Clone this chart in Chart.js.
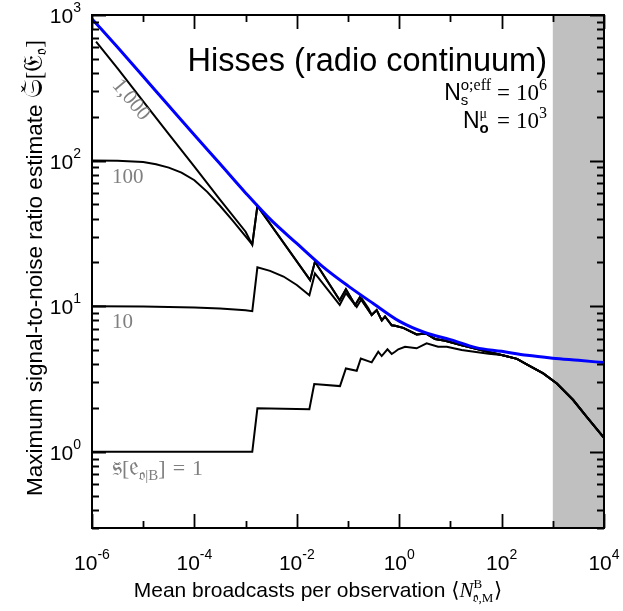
<!DOCTYPE html>
<html>
<head>
<meta charset="utf-8">
<script src="https://cdn.jsdelivr.net/npm/chart.js@4.4.1/dist/chart.umd.min.js"></script>
<style>
  html, body { margin: 0; padding: 0; background: #ffffff; }
</style>
</head>
<body>
<canvas id="grafico" width="623" height="611"></canvas>
<script>
// Envolvente (curva azul)
const envX = [1e-6, 3.16e-6, 1e-5, 3.16e-5, 1e-4, 3.16e-4, 1e-3, 3.16e-3, 1e-2, 3.16e-2, 0.1, 0.316, 1, 3.16, 10, 31.6, 100, 316, 1000, 3160, 1e4];
const envY = [940, 600, 378, 238, 150, 95, 60, 39, 27, 18.8, 13.8, 10.4, 7.9, 6.6, 5.9, 5.2, 4.9, 4.6, 4.4, 4.25, 4.1];

// Tramo inicial de cada curva negra
const head1000X = [1.2e-6, 3.16e-6, 1e-5, 3.16e-5, 1e-4, 3.16e-4, 1e-3, 1.35e-3];
const head1000Y = [656, 430, 255, 152, 91, 54, 32.5, 26.5];
const head100X = [1e-6, 3.16e-6, 1e-5, 1.78e-5, 3.16e-5, 5.6e-5, 1e-4, 1.78e-4, 3.16e-4, 5.6e-4, 1e-3, 1.35e-3];
const head100Y = [100, 99.6, 97.7, 94.4, 89.5, 82.8, 73.3, 61, 49, 38.7, 30.2, 26.5];
const head10X = [1e-6, 1e-5, 1e-4, 3.16e-4, 1e-3, 1.35e-3, 1.7e-3, 3.0e-3, 5.5e-3, 1e-2, 1.76e-2, 2.26e-2, 6.9e-2, 9.1e-2, 0.148, 0.186, 0.25];
const head10Y = [10, 9.95, 9.8, 9.65, 9.4, 9.25, 18.5, 17.5, 16.0, 14.0, 11.9, 16.8, 10.2, 12.3, 9.9, 11.3, 9.7];
const head1X = [1e-6, 1.35e-3, 1.7e-3, 1.76e-2, 2.19e-2, 6.98e-2, 9.1e-2, 0.148, 0.178, 0.29, 0.39, 0.455, 0.59, 0.714, 0.83, 0.96, 1.3, 2.19, 3.43, 5.75, 8.5, 16.6, 31.6, 56];
const head1Y = [1, 1, 1.99, 1.96, 2.92, 2.83, 3.74, 3.6, 4.38, 4.12, 4.87, 4.55, 5.06, 4.7, 4.87, 5.06, 5.27, 5.14, 5.56, 5.27, 5.27, 5.0, 4.85, 4.72];

// Tramos compartidos
const upperAX = [1.7e-3, 1.82e-2, 2.26e-2, 6.9e-2, 9.1e-2, 0.138, 0.17];
const upperAY = [48.8, 15.1, 20.2, 11.0, 13.1, 10.2, 11.5];
const upperBX = [0.29, 0.363, 0.457, 0.528, 0.714, 0.83, 1.2, 2.19, 3.3, 5.0, 7.9, 16.6, 31.6, 56];
const upperBY = [8.7, 9.4, 8.0, 8.5, 7.4, 7.35, 7.1, 6.4, 6.5, 5.96, 5.8, 5.4, 5.1, 4.85];
const endX = [100, 200, 316, 650, 1200, 2500, 4600, 1e4];
const endY = [4.62, 4.35, 3.98, 3.46, 2.95, 2.27, 1.74, 1.25];

// Ejes
const xTickExps = [-6, -5, -4, -3, -2, -1, 0, 1, 2, 3, 4];
const xLabelExps = [-6, -4, -2, 0, 2, 4];
const yLabelExps = [0, 1, 2, 3];
const shadeFrom = 1e3;
const shadeTo = 1e4;

const SANS = '"Liberation Sans", Arial, sans-serif';
const SERIF = '"Liberation Serif", "DejaVu Serif", serif';
const FRAK = '"DejaVu Serif", "DejaVu Sans", serif';

function puntos(xs, ys) {
    return xs.map((x, i) => ({ x: x, y: ys[i] }));
}

// Dibuja texto por partes (sub/superindices) con alineacion
function dibujarPartes(ctx, partes, x, y, alinear) {
    const medidas = partes.map(p => { ctx.font = p.f; return p.w !== undefined ? p.w : ctx.measureText(p.t).width; });
    let ancho = 0;
    partes.forEach((p, i) => { if (!p.over && p.adv !== 0) ancho += medidas[i]; });
    let cx = alinear === 'right' ? x - ancho : (alinear === 'center' ? x - ancho / 2 : x);
    let prevX = cx, prevW = 0;
    partes.forEach((p, i) => {
        ctx.font = p.f;
        if (p.over) {
            ctx.fillText(p.t, prevX + prevW / 2 - medidas[i] / 2, y + (p.dy || 0));
            return;
        }
        ctx.fillText(p.t, cx, y + (p.dy || 0));
        prevX = cx; prevW = medidas[i];
        if (p.adv !== 0) cx += medidas[i];
    });
}

const marco = {
    id: 'marco',
    beforeDatasetsDraw(chart) {
        const ctx = chart.ctx, a = chart.chartArea, xs = chart.scales.x;
        const x0 = xs.getPixelForValue(shadeFrom), x1 = xs.getPixelForValue(shadeTo);
        ctx.save();
        ctx.fillStyle = '#c0c0c0';
        ctx.fillRect(x0, a.top, x1 - x0, a.bottom - a.top);
        ctx.restore();
    },
    afterDatasetsDraw(chart) {
        const ctx = chart.ctx, a = chart.chartArea;
        const xs = chart.scales.x, ys = chart.scales.y;
        ctx.save();
        ctx.strokeStyle = '#000';
        ctx.fillStyle = '#000';
        ctx.lineWidth = 2;
        ctx.strokeRect(a.left, a.top, a.right - a.left, a.bottom - a.top);

        // marcas hacia dentro
        ctx.lineWidth = 1.8;
        ctx.beginPath();
        xTickExps.forEach(k => {
            const px = Math.round(xs.getPixelForValue(Math.pow(10, k))) + 0.5;
            const len = (k % 2 === 0) ? 14 : 7;
            ctx.moveTo(px, a.bottom); ctx.lineTo(px, a.bottom - len);
            ctx.moveTo(px, a.top); ctx.lineTo(px, a.top + len);
        });
        for (let k = -1; k <= 3; k++) {
            for (let m = 1; m <= 9; m++) {
                const v = m * Math.pow(10, k);
                if (v < ys.min || v > ys.max) continue;
                const py = Math.round(ys.getPixelForValue(v)) + 0.5;
                const len = m === 1 ? 14 : 7;
                ctx.moveTo(a.left, py); ctx.lineTo(a.left + len, py);
                ctx.moveTo(a.right, py); ctx.lineTo(a.right - len, py);
            }
        }
        ctx.stroke();

        // etiquetas de los ejes
        ctx.textBaseline = 'alphabetic';
        xLabelExps.forEach(k => {
            const px = xs.getPixelForValue(Math.pow(10, k));
            dibujarPartes(ctx, [
                { t: '10', f: '21px ' + SANS },
                { t: String(k), f: '14px ' + SANS, dy: -11 }
            ], px, 570, 'center');
        });
        yLabelExps.forEach(k => {
            const py = ys.getPixelForValue(Math.pow(10, k));
            dibujarPartes(ctx, [
                { t: '10', f: '21px ' + SANS },
                { t: String(k), f: '14px ' + SANS, dy: -11 }
            ], 81, py + 8, 'right');
        });

        // titulo eje x
        dibujarPartes(ctx, [
            { t: 'Mean broadcasts per observation ', f: '21px ' + SANS },
            { t: '\u27E8', f: '21px ' + SERIF },
            { t: 'N', f: 'italic 21px ' + SERIF },
            { t: '\uD835\uDD2C,M', f: '13px ' + SERIF, dy: 5, adv: 0 },
            { t: 'B', f: '13px ' + SERIF, dy: -9 },
            { t: '', f: '13px ' + SERIF, w: 12 },
            { t: '\u27E9', f: '21px ' + SERIF }
        ], 318, 597, 'center');

        // titulo eje y
        ctx.save();
        ctx.translate(42, 268);
        ctx.rotate(-Math.PI / 2);
        dibujarPartes(ctx, [
            { t: 'Maximum signal-to-noise ratio estimate ', f: '22.5px ' + SANS },
            { t: '\uD835\uDD16', f: '27px ' + FRAK },
            { t: '\u02C7', f: '20px ' + SERIF, dy: -6, over: true },
            { t: '[', f: '23px ' + SERIF },
            { t: '\uD835\uDD08', f: '27px ' + FRAK },
            { t: '\uD835\uDD2C', f: '16px ' + FRAK, dy: 4 },
            { t: ']', f: '23px ' + SERIF }
        ], 0, 0, 'center');
        ctx.restore();

        // bloque de texto superior derecho
        dibujarPartes(ctx, [{ t: 'Hisses (radio continuum)', f: '32.5px ' + SANS }], 547, 71, 'right');
        dibujarPartes(ctx, [
            { t: 'N', f: '23px ' + SANS },
            { t: 's', f: '15px ' + SANS, dy: 5, adv: 0 },
            { t: 'o', f: '15px ' + SANS, dy: -10 },
            { t: ';eff', f: '16px ' + SERIF, dy: -10 },
            { t: '', f: '16px ' + SERIF, w: 6 },
            { t: '=', f: '23px ' + SERIF },
            { t: '', f: '16px ' + SERIF, w: 6 },
            { t: '10', f: '23px ' + SERIF },
            { t: '6', f: '16px ' + SERIF, dy: -10 }
        ], 547, 100, 'right');
        dibujarPartes(ctx, [
            { t: 'N', f: '23px ' + SANS },
            { t: 'o', f: 'bold 15px ' + SANS, dy: 5, adv: 0 },
            { t: '\u03BC', f: '14px ' + SERIF, dy: -10 },
            { t: '', f: '16px ' + SERIF, w: 10 },
            { t: '=', f: '23px ' + SERIF },
            { t: '', f: '16px ' + SERIF, w: 6 },
            { t: '10', f: '23px ' + SERIF },
            { t: '3', f: '16px ' + SERIF, dy: -10 }
        ], 547, 128, 'right');

        // etiquetas de curvas
        ctx.fillStyle = '#7f7f7f';
        ctx.save();
        ctx.translate(132, 99);
        ctx.rotate(50 * Math.PI / 180);
        dibujarPartes(ctx, [{ t: '1,000', f: '21px ' + SERIF }], 0, 7, 'center');
        ctx.restore();
        dibujarPartes(ctx, [{ t: '100', f: '21px ' + SERIF }], 112, 183, 'left');
        dibujarPartes(ctx, [{ t: '10', f: '21px ' + SERIF }], 112, 328, 'left');
        dibujarPartes(ctx, [
            { t: '\uD835\uDD30', f: '27px ' + FRAK },
            { t: '\u02C7', f: '20px ' + SERIF, dy: 2, over: true },
            { t: '[', f: '22px ' + SERIF },
            { t: '\uD835\uDD22', f: '27px ' + FRAK },
            { t: '\uD835\uDD2C|B', f: '15px ' + SERIF, dy: 5 },
            { t: ']', f: '22px ' + SERIF },
            { t: '', f: '16px ' + SERIF, w: 7 },
            { t: '=', f: '22px ' + SERIF },
            { t: '', f: '16px ' + SERIF, w: 7 },
            { t: '1', f: '22px ' + SERIF }
        ], 112, 475, 'left');
        ctx.restore();
    }
};

const negro = (datos) => ({
    data: datos,
    showLine: true,
    borderColor: '#000000',
    borderWidth: 2,
    pointRadius: 0,
    tension: 0,
    fill: false
});

const ctx = document.getElementById('grafico').getContext('2d');
new Chart(ctx, {
    type: 'scatter',
    data: {
        datasets: [
            {
                data: puntos(envX, envY),
                showLine: true,
                borderColor: '#0000ff',
                borderWidth: 3,
                pointRadius: 0,
                cubicInterpolationMode: 'monotone',
                fill: false
            },
            negro(puntos(head1000X.concat(upperAX, upperBX, endX), head1000Y.concat(upperAY, upperBY, endY))),
            negro(puntos(head100X.concat(upperAX, upperBX, endX), head100Y.concat(upperAY, upperBY, endY))),
            negro(puntos(head10X.concat(upperBX, endX), head10Y.concat(upperBY, endY))),
            negro(puntos(head1X.concat(endX), head1Y.concat(endY)))
        ]
    },
    options: {
        responsive: false,
        animation: false,
        layout: { padding: { left: 92, right: 19, top: 15, bottom: 83 } },
        plugins: { legend: { display: false }, tooltip: { enabled: false } },
        scales: {
            x: { type: 'logarithmic', display: false, min: 1e-6, max: 1e4 },
            y: { type: 'logarithmic', display: false, min: 0.3, max: 1000 }
        }
    },
    plugins: [marco]
});
</script>
</body>
</html>
